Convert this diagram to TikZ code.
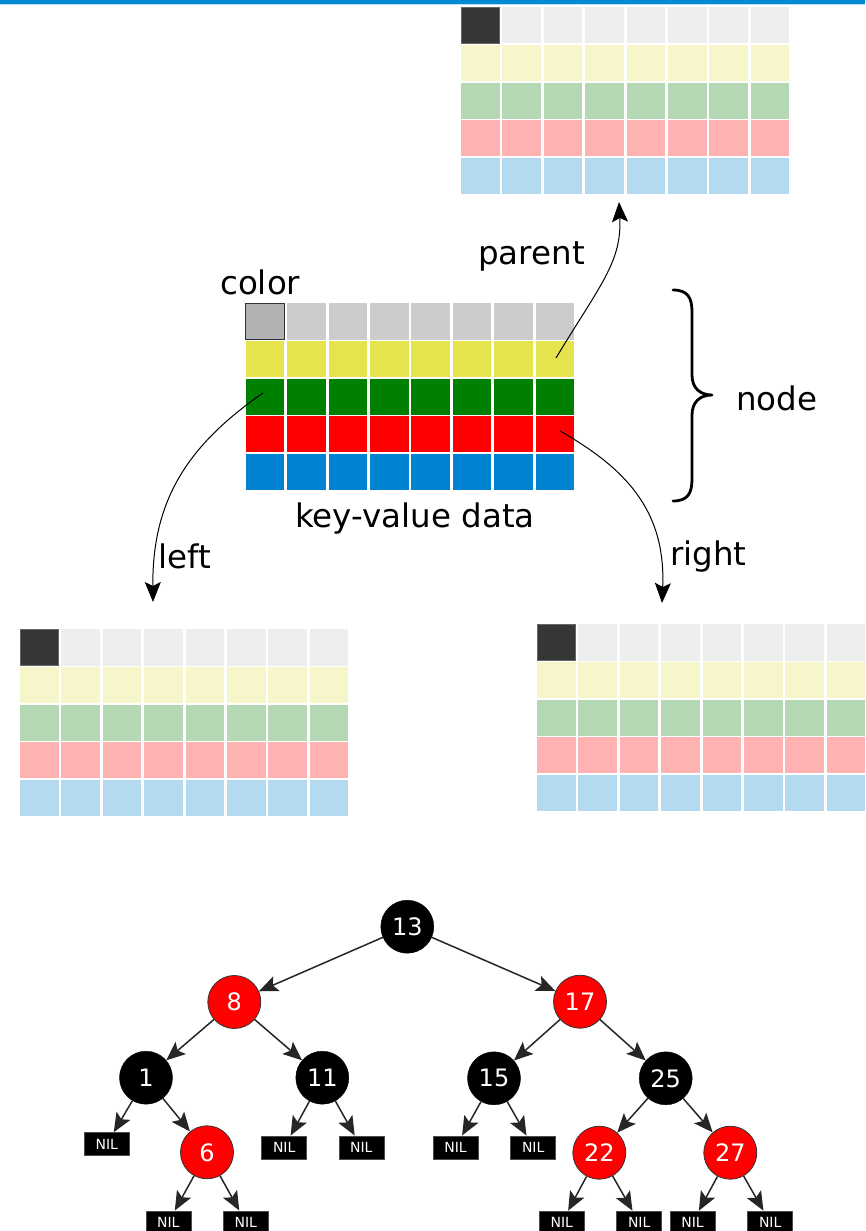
\documentclass[tikz,border=0pt]{standalone}
\usepackage{fontspec}
\setmainfont{DejaVu Sans}
\usetikzlibrary{arrows.meta}
\definecolor{kvblue}{RGB}{0,132,209}
\definecolor{kvgray}{RGB}{204,204,204}
\definecolor{kvyellow}{RGB}{230,228,77}
\definecolor{kvgreen}{RGB}{0,128,0}
\definecolor{kvred}{RGB}{255,0,0}
\definecolor{fgray}{RGB}{238,238,238}
\definecolor{fyellow}{RGB}{247,246,203}
\definecolor{fgreen}{RGB}{179,216,179}
\definecolor{fred}{RGB}{255,178,178}
\definecolor{fblue}{RGB}{179,218,240}
\definecolor{topbar}{RGB}{0,136,209}
\newcommand{\kvgrid}[8]{%
  \foreach \r/\rowcol in {0/#3,1/#4,2/#5,3/#6,4/#7}{%
    \foreach \c in {0,...,7}{%
      \fill[\rowcol] ({#1+\c*41.4},{#2+\r*37.65}) rectangle ++(38.6,36.2);
    }%
  }%
  \draw[#8] (#1,#2) rectangle ++(38.6,36.2);
}
\begin{document}
\begin{tikzpicture}[x=1pt,y=-1pt,
  label/.style={inner sep=0pt, anchor=base west, font=\fontsize{32.5}{39}\selectfont},
  pointer/.style={line width=1pt, -{Stealth[length=20pt,width=16pt,inset=4pt]}},
  rbnode/.style={circle, minimum size=53pt, inner sep=0pt, text=white, font=\fontsize{24}{28}\selectfont},
  blacknode/.style={rbnode, fill=black, draw=black},
  rednode/.style={rbnode, fill=kvred, draw=black!80, line width=0.8pt},
  nil/.style={rectangle, fill=black, draw=black!70, line width=0.6pt, minimum width=45pt, minimum height=23pt, inner sep=0pt, text=white, font=\fontsize{14}{16}\selectfont},
  treeedge/.style={draw=black!85, line width=1.5pt, -{Stealth[length=19pt,width=16pt,inset=4pt]}},
  bracestyle/.style={line width=2.8pt, line cap=round, line join=round}
]
\clip (0,0) rectangle (865,1231);
\fill[white] (0,0) rectangle (865,1231);
% top bar
\fill[topbar] (0,0) rectangle (865,4);
\fill[topbar!25] (0,4) rectangle (865,5);

% grids
\kvgrid{461}{7.3}{fgray}{fyellow}{fgreen}{fred}{fblue}{fill=black!79, draw=black!60, line width=1pt}
\kvgrid{245.7}{303.3}{kvgray}{kvyellow}{kvgreen}{kvred}{kvblue}{fill=black!30, draw=black!80, line width=1.5pt}
\kvgrid{20}{629.3}{fgray}{fyellow}{fgreen}{fred}{fblue}{fill=black!79, draw=black!60, line width=1pt}
\kvgrid{537}{624.3}{fgray}{fyellow}{fgreen}{fred}{fblue}{fill=black!79, draw=black!60, line width=1pt}

% labels
\node[label] (tcolor) at (220,294) {color};
\node[label] (tparent) at (478,264) {parent};
\node[label] (tnode) at (736,410) {node};
\node[label] (tkv) at (295,527) {key-value data};
\node[label] (tleft) at (158,568) {left};
\node[label] (tright) at (670,565) {right};

% pointers
\coordinate (pstart) at (556,358);
\coordinate (ptip) at (619,202);
\coordinate (lstart) at (263,393);
\coordinate (ltip) at (153,602);
\coordinate (rstart) at (560,431);
\coordinate (rtip) at (662,603);
\draw[pointer] (pstart) .. controls (600,285) and (622,262) .. (ptip);
\draw[pointer] (lstart) .. controls (188,445) and (152,500) .. (ltip);
\draw[pointer] (rstart) .. controls (625,468) and (666,510) .. (rtip);

% brace
\draw[bracestyle] (673,290) .. controls (688,290) and (692,298) .. (692,312)
  -- (692,375) .. controls (692,388) and (700,395) .. (712,395)
  .. controls (700,395) and (692,402) .. (692,415)
  -- (692,479) .. controls (692,493) and (688,501) .. (673,501);

% tree
\node[blacknode] (n13) at (407.3,926.7) {13};
\node[rednode] (n8) at (234.3,1002) {8};
\node[rednode] (n17) at (580,1001.7) {17};
\node[blacknode] (n1) at (146,1077.7) {1};
\node[blacknode] (n11) at (322.3,1077.7) {11};
\node[blacknode] (n15) at (494,1078.3) {15};
\node[blacknode] (n25) at (665.7,1078.3) {25};
\node[rednode] (n6) at (207,1152.3) {6};
\node[rednode] (n22) at (599.3,1152.7) {22};
\node[rednode] (n27) at (730.3,1152.7) {27};

\node[nil] (nil1) at (106.8,1144) {NIL};
\node[nil] (nil11a) at (284.2,1147.3) {NIL};
\node[nil] (nil11b) at (361.3,1147.3) {NIL};
\node[nil] (nil6a) at (168.3,1222.3) {NIL};
\node[nil] (nil6b) at (245.8,1222.3) {NIL};
\node[nil] (nil15a) at (455.5,1147.3) {NIL};
\node[nil] (nil15b) at (533.2,1147.3) {NIL};
\node[nil] (nil22a) at (561.8,1222.5) {NIL};
\node[nil] (nil22b) at (639.2,1222.5) {NIL};
\node[nil] (nil27a) at (692.5,1222.5) {NIL};
\node[nil] (nil27b) at (770.2,1222.5) {NIL};

\draw[treeedge] (n13) -- (n8);
\draw[treeedge] (n13) -- (n17);
\draw[treeedge] (n8) -- (n1);
\draw[treeedge] (n8) -- (n11);
\draw[treeedge] (n17) -- (n15);
\draw[treeedge] (n17) -- (n25);
\draw[treeedge] (n1) -- (nil1);
\draw[treeedge] (n1) -- (n6);
\draw[treeedge] (n11) -- (nil11a);
\draw[treeedge] (n11) -- (nil11b);
\draw[treeedge] (n6) -- (nil6a);
\draw[treeedge] (n6) -- (nil6b);
\draw[treeedge] (n15) -- (nil15a);
\draw[treeedge] (n15) -- (nil15b);
\draw[treeedge] (n25) -- (n22);
\draw[treeedge] (n25) -- (n27);
\draw[treeedge] (n22) -- (nil22a);
\draw[treeedge] (n22) -- (nil22b);
\draw[treeedge] (n27) -- (nil27a);
\draw[treeedge] (n27) -- (nil27b);
\end{tikzpicture}
\end{document}
